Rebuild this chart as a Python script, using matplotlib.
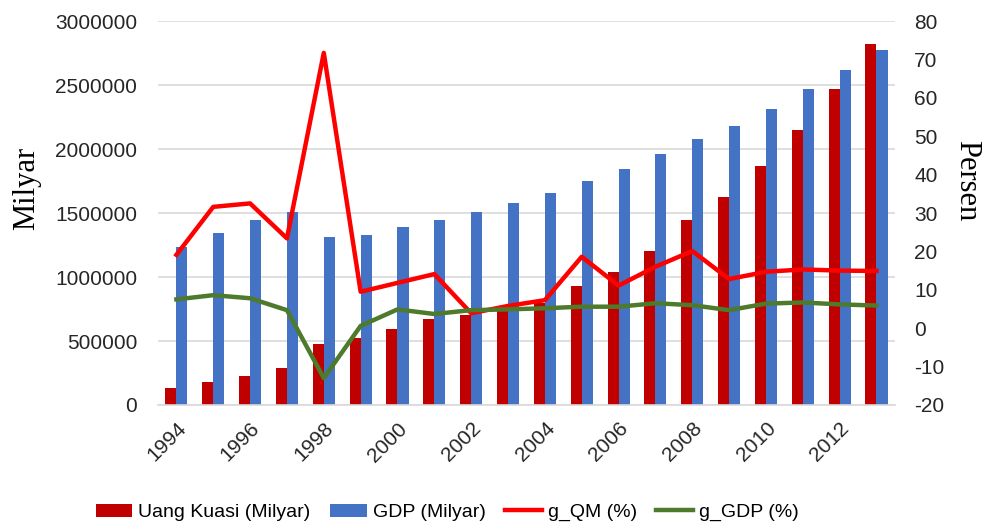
import numpy as np
import matplotlib.pyplot as plt

# data
years = list(range(1994, 2014))
uang_kuasi = [130000, 177000, 226000, 287000, 476000, 526000, 591000, 669000, 700000, 758000,
              799000, 932000, 1037000, 1201000, 1443000, 1625000, 1867000, 2148000, 2466000, 2823000]
gdp = [1237000, 1346000, 1443000, 1508000, 1315000, 1326000, 1393000, 1443000, 1510000, 1578000,
       1654000, 1750000, 1846000, 1963000, 2080000, 2177000, 2310000, 2466000, 2620000, 2773000]
g_qm = [19.1, 31.6, 32.5, 23.4, 71.7, 9.5, 11.8, 14.1, 3.9, 5.8,
        7.3, 18.6, 11.1, 16.0, 20.1, 12.8, 14.7, 15.3, 15.0, 14.9]
g_gdp = [7.5, 8.6, 7.8, 4.7, -13.0, 0.6, 4.9, 3.7, 4.7, 4.9,
         5.2, 5.6, 5.6, 6.5, 6.0, 4.7, 6.4, 6.7, 6.2, 5.9]

plt.rcParams['font.family'] = ['Liberation Sans', 'DejaVu Sans']
plt.rcParams['axes.unicode_minus'] = False

fig = plt.figure(figsize=(9.83, 5.24), dpi=100)
ax = fig.add_axes([0.1607, 0.2271, 0.7497, 0.7328])
ax2 = ax.twinx()

x = np.arange(len(years))
w = 0.30
ax.bar(x - w / 2, uang_kuasi, w, color='#C00000', label='Uang Kuasi (Milyar)', zorder=2)
ax.bar(x + w / 2, gdp, w, color='#4472C4', label='GDP (Milyar)', zorder=2)

ax2.plot(x, g_qm, color='#FF0000', lw=3.2, label='g_QM (%)')
ax2.plot(x, g_gdp, color='#4E7A2C', lw=3.2, label='g_GDP (%)')

ax.set_xlim(-0.5, len(years) - 0.5)
ax.set_ylim(0, 3000000)
ax.set_yticks(np.arange(0, 3000001, 500000))
ax.set_yticklabels([str(v) for v in range(0, 3000001, 500000)])
ax2.set_ylim(-20, 80)
ax2.set_yticks(np.arange(-20, 81, 10))

ax.grid(axis='y', color='#D9D9D9', lw=1.2, zorder=0)
ax.set_axisbelow(True)
for a in (ax, ax2):
    for s in a.spines.values():
        s.set_visible(False)
ax.spines['bottom'].set_visible(True)
ax.spines['bottom'].set_color('#D9D9D9')
ax.spines['bottom'].set_linewidth(1.2)

ax.tick_params(axis='y', length=0, pad=15, labelsize=15, labelcolor='#262626')
ax2.tick_params(axis='y', length=0, pad=14, labelsize=15, labelcolor='#262626')

ax.set_xticks(x[::2])
ax.set_xticklabels([str(y) for y in years[::2]], rotation=45, ha='right',
                   rotation_mode='anchor', fontsize=15, color='#262626')
ax.tick_params(axis='x', length=0, pad=10)

fig.text(27 / 983, 1 - 188 / 524, 'Milyar', family='Liberation Serif', fontsize=22,
         rotation=90, ha='center', va='center')
fig.text(967 / 983, 1 - 181 / 524, 'Persen', family='Liberation Serif', fontsize=22,
         rotation=270, ha='center', va='center')

h1, l1 = ax.get_legend_handles_labels()
h2, l2 = ax2.get_legend_handles_labels()
fig.legend(h1 + h2, l1 + l2, loc='center', bbox_to_anchor=(0.455, 0.022), ncol=4,
           frameon=False, fontsize=14, handlelength=1.9, columnspacing=1.0,
           handletextpad=0.3)

fig.savefig('out.png', dpi=100)
